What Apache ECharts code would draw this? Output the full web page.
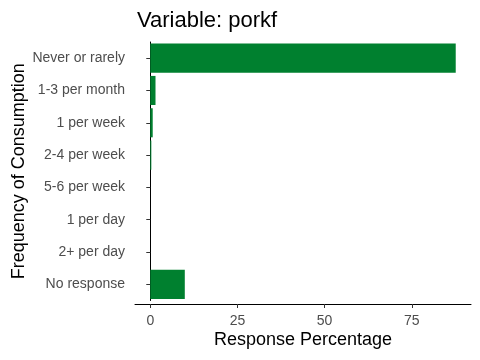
<!DOCTYPE html>
<html><head><meta charset="utf-8">
<script src="https://cdn.jsdelivr.net/npm/echarts@6/dist/echarts.min.js"></script>
<style>html,body{margin:0;padding:0;background:#fff}#c{width:480px;height:360px}</style>
</head><body><div id="c"></div>
<script>
const categories = ["Never or rarely","1-3 per month","1 per week","2-4 per week","5-6 per week","1 per day","2+ per day","No response"];
const values = [87.6, 1.5, 0.7, 0.3, 0, 0, 0, 9.9];
const xTicks = [0, 25, 50, 75];

const chart = echarts.init(document.getElementById('c'), null, {renderer:'canvas'});
const font = "Liberation Sans, Arial, sans-serif";
chart.setOption({
  animation: false,
  title: {text: "Variable: porkf", left: 132, top: 5, textStyle: {fontFamily: font, fontSize: 22, fontWeight: 'normal', color: '#000'}},
  grid: {left: 135, right: 9, top: 42, bottom: 59.5, containLabel: false, outerBoundsMode: 'none'},
  xAxis: {
    type: 'value', min: -4.38, max: 91.98, offset: 3.5,
    name: 'Response Percentage', nameLocation: 'middle', nameGap: 27, nameMoveOverlap: false,
    nameTextStyle: {fontFamily: font, fontSize: 18, color: '#000'},
    axisLine: {show: true, onZero: false, lineStyle: {color: '#000', width: 1}},
    axisTick: {show: true, length: 4, lineStyle: {color: '#333'}, customValues: xTicks},
    axisLabel: {fontFamily: font, fontSize: 14, color: '#4d4d4d', margin: 10, customValues: xTicks},
    splitLine: {show: false}
  },
  yAxis: {
    type: 'category', data: categories, inverse: true,
    name: 'Frequency of Consumption', nameLocation: 'middle', nameGap: 107, nameMoveOverlap: false,
    nameTextStyle: {fontFamily: font, fontSize: 18, color: '#000'},
    axisLine: {show: true, lineStyle: {color: '#000', width: 1}},
    axisTick: {show: true, alignWithLabel: true, length: 4, lineStyle: {color: '#333'}},
    axisLabel: {fontFamily: font, fontSize: 14, color: '#4d4d4d', margin: 10}
  },
  series: [{
    type: 'bar', data: values, barWidth: '90%',
    itemStyle: {color: '#00802f'}
  }]
});
</script></body></html>
